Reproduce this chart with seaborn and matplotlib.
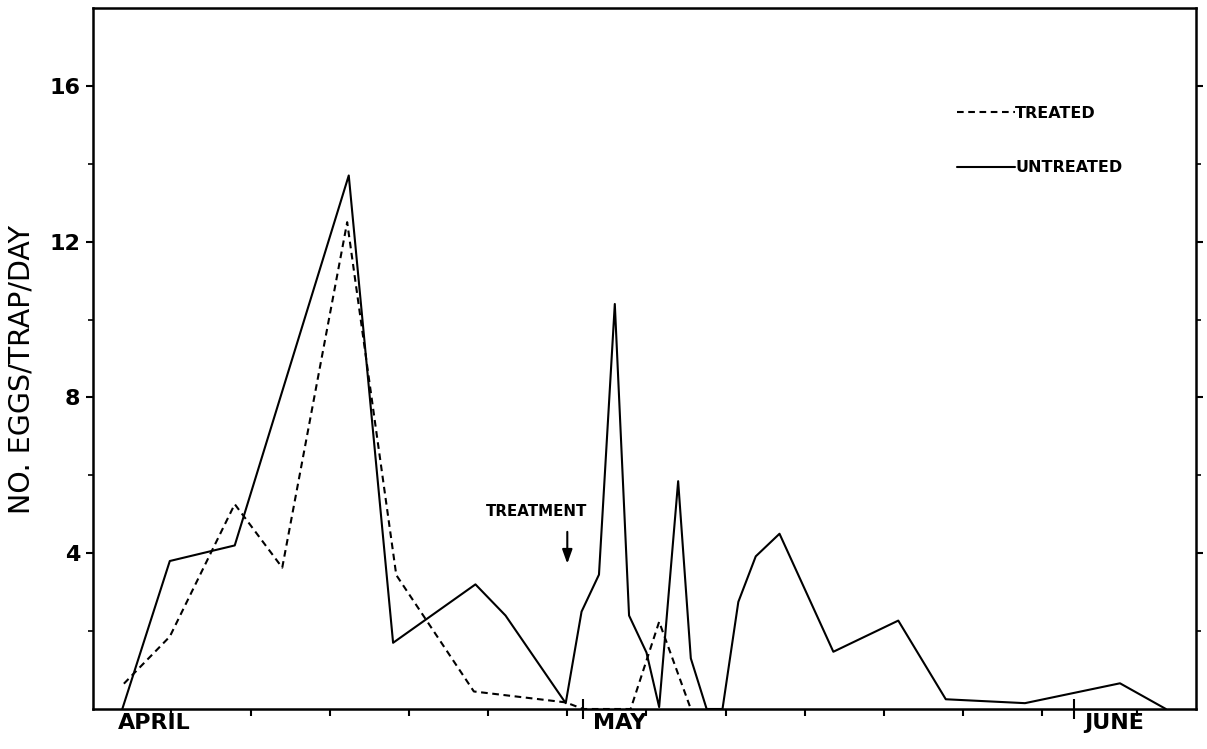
import matplotlib
matplotlib.use("Agg")
import matplotlib.pyplot as plt
import matplotlib.transforms as mtransforms
from matplotlib.lines import Line2D
import seaborn as sns
import pandas as pd

# ---- data (x = days after April 1) ----
untreated_day = [0.9, 3.9, 8.0, 15.2, 18.0, 23.2, 25.1, 28.9, 29.9, 31.0, 32.0, 32.9,
                 34.0, 34.8, 36.0, 36.8, 37.8, 38.8, 39.8, 40.9, 42.4, 45.8, 49.9,
                 52.9, 57.9, 63.9, 66.8]
untreated_val = [0.0, 3.8, 4.2, 13.7, 1.7, 3.2, 2.4, 0.15, 2.5, 3.45, 10.4, 2.4,
                 1.45, 0.05, 5.85, 1.3, 0.0, 0.0, 2.75, 3.92, 4.5, 1.47, 2.27,
                 0.25, 0.15, 0.66, 0.0]
treated_day = [1.0, 3.9, 8.0, 11.0, 15.1, 18.2, 23.1, 28.9, 30.0, 33.0, 34.8, 36.8]
treated_val = [0.65, 1.86, 5.26, 3.63, 12.5, 3.44, 0.45, 0.17, 0.0, 0.0, 2.24, 0.0]

month_days = [0, 30, 61]
month_labels = ["APRIL", "MAY", "JUNE"]
minor_days = [4, 9, 14, 19, 24, 29, 34, 39, 44, 49, 54, 59, 65]
y_major = [4, 8, 12, 16]
y_minor = [2, 6, 10, 14]
treatment_day = 29
series_labels = ["TREATED", "UNTREATED"]

df_t = pd.DataFrame({"day": treated_day, "eggs": treated_val})
df_u = pd.DataFrame({"day": untreated_day, "eggs": untreated_val})

sns.set_theme(style="white")
plt.rcParams["font.family"] = ["DejaVu Sans"]
for k in ["text.color", "axes.labelcolor", "xtick.color", "ytick.color", "axes.edgecolor"]:
    plt.rcParams[k] = "black"

fig = plt.figure(figsize=(12.07, 7.49), dpi=100)
ax = fig.add_axes([93 / 1207, 1 - 709 / 749, (1196 - 93) / 1207, (709 - 8) / 749])

lw = 1.5
sns.lineplot(data=df_u, x="day", y="eggs", ax=ax, color="black", lw=lw,
             sort=False, estimator=None)
sns.lineplot(data=df_t, x="day", y="eggs", ax=ax, color="black", lw=lw,
             sort=False, estimator=None, linestyle=(0, (3.2, 2.2)))

ax.set_xlim(-0.95, 68.7)
ax.set_ylim(0, 18.0)
ax.set_xlabel("")
ax.set_ylabel("NO. EGGS/TRAP/DAY", fontsize=20.5)
ax.yaxis.set_label_coords(-0.052, 0.4836)

for s in ax.spines.values():
    s.set_linewidth(1.8)
    s.set_color("black")
    s.set_visible(True)

# y ticks
ax.set_yticks(y_major)
ax.set_yticks(y_minor, minor=True)
ax.set_yticklabels([str(v) for v in y_major], fontsize=16, fontweight="bold")
ax.tick_params(axis="y", which="major", direction="out", length=5, width=1.5,
               left=True, right=True, pad=4)
ax.tick_params(axis="y", which="minor", direction="out", length=3.5, width=1.2,
               left=True, right=True)

# x ticks
ax.set_xticks(month_days)
ax.set_xticks(minor_days, minor=True)
ax.set_xticklabels(month_labels, fontsize=16, fontweight="bold")
ax.tick_params(axis="x", which="major", direction="inout", length=14, width=1.5,
               bottom=True, pad=-4)
ax.tick_params(axis="x", which="minor", direction="out", length=5, width=1.5,
               bottom=True)
ax.xaxis.get_major_ticks()[0].tick1line.set_visible(False)
offset = mtransforms.ScaledTranslation(7 / 72, 0, fig.dpi_scale_trans)
for lab in ax.get_xticklabels():
    lab.set_ha("left")
    lab.set_transform(lab.get_transform() + offset)

# treatment annotation
ax.text(treatment_day - 1.95, 5.06, "TREATMENT", fontsize=10.8, fontweight="bold",
        ha="center", va="center")
ax.annotate("", xy=(treatment_day, 3.66), xytext=(treatment_day, 4.62),
            arrowprops=dict(arrowstyle="-|>,head_length=0.7,head_width=0.25",
                            color="black", lw=1.5))

# legend
handles = [Line2D([], [], color="black", lw=1.5, linestyle=(0, (3.2, 2.2))),
           Line2D([], [], color="black", lw=1.5)]
ax.legend(handles, series_labels, loc="upper left",
          bbox_to_anchor=(957 / 1207, 1 - 106 / 749), bbox_transform=fig.transFigure,
          frameon=False, prop={"weight": "bold", "size": 11.5},
          handlelength=3.6, handletextpad=0.05, labelspacing=2.45, borderpad=0,
          borderaxespad=0, labelcolor="black")

fig.savefig("out.png", dpi=100)
